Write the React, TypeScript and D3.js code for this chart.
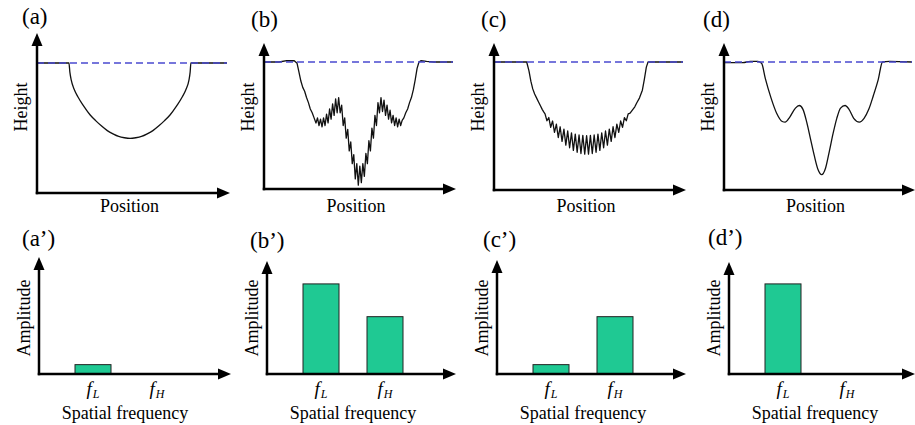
import React, { useRef, useEffect } from "react";
import * as d3 from "d3";

// panel captions
const panelLabels = ["(a)", "(b)", "(c)", "(d)"];
const spectrumLabels = ["(a’)", "(b’)", "(c’)", "(d’)"];

// spectrum categories and amplitudes (fL, fH)
const frequencies = ["L", "H"];
const amplitudeA = [0.08, 0];
const amplitudeB = [0.77, 0.49];
const amplitudeC = [0.08, 0.49];
const amplitudeD = [0.77, 0];

// surface profiles: [position 0-100, height relative to reference plane = 1]
const profileA = [
  [0, 1], [16.8, 1], [17.3, 0.93], [18, 0.87], [19.5, 0.8], [21.5, 0.74], [24.5, 0.67],
  [28, 0.6], [31, 0.555], [34, 0.515], [37, 0.48], [40, 0.455], [43, 0.435], [46, 0.425],
  [49, 0.42], [52, 0.425], [55, 0.435], [58, 0.455], [61, 0.48], [64, 0.515], [67, 0.555],
  [70, 0.6], [73.5, 0.67], [76.5, 0.74], [78.5, 0.8], [80, 0.87], [80.6, 0.93], [81, 1], [100, 1]
];

const profileB = [
  [0, 1], [8, 1], [12, 1.01], [16, 1.01], [17.5, 0.99],
  [18.5, 0.92], [19.5, 0.85], [20.5, 0.8], [21.5, 0.77], [22.5, 0.72], [23.5, 0.68], [24.5, 0.63],
  [25.5, 0.6], [26.5, 0.56],
  [27.5, 0.52], [28.3, 0.56], [29.1, 0.5], [29.9, 0.55], [30.7, 0.49], [31.5, 0.56], [32.3, 0.5],
  [33.1, 0.59], [33.9, 0.52], [34.7, 0.63], [35.5, 0.55], [36.3, 0.67], [37.1, 0.58], [37.9, 0.71],
  [38.7, 0.6], [39.5, 0.72], [40.3, 0.6],
  [41.1, 0.66], [41.9, 0.5], [42.7, 0.56], [43.5, 0.4], [44.3, 0.47], [45.1, 0.3], [45.9, 0.37],
  [46.7, 0.2], [47.5, 0.27], [48.3, 0.08], [49.1, 0.2], [49.9, 0.03], [50.7, 0.18], [51.5, 0.05],
  [52.3, 0.2], [53.1, 0.1], [53.9, 0.28], [54.7, 0.2], [55.5, 0.38], [56.3, 0.3], [57.1, 0.48],
  [57.9, 0.4], [58.7, 0.58], [59.5, 0.5], [60.3, 0.68], [61.1, 0.6], [61.9, 0.72], [62.7, 0.61],
  [63.5, 0.7], [64.3, 0.58], [65.1, 0.66], [65.9, 0.55], [66.7, 0.62], [67.5, 0.52], [68.3, 0.58],
  [69.1, 0.5], [69.9, 0.56], [70.7, 0.49], [71.5, 0.55], [72.3, 0.5], [73.1, 0.54],
  [74, 0.56], [75, 0.6], [76, 0.63], [77, 0.68], [78, 0.72], [79, 0.78], [80, 0.86], [81, 0.95],
  [82, 1.0], [83, 1.01], [86, 1.005], [90, 1], [100, 1]
];

const profileC = [
  [0, 1], [17.3, 1], [18.5, 0.93], [19.5, 0.85], [20.5, 0.79], [21.5, 0.75], [22.5, 0.72],
  [23.5, 0.69], [24.5, 0.66], [25.5, 0.63], [26.3, 0.61],
  [27, 0.595], [28, 0.541], [29, 0.566], [30, 0.49], [31, 0.539], [32, 0.45], [33, 0.515],
  [34, 0.41], [35, 0.494], [36, 0.38], [37, 0.476], [38, 0.35], [39, 0.461], [40, 0.33],
  [41, 0.447], [42, 0.31], [43, 0.437], [44, 0.295], [45, 0.43], [46, 0.285], [47, 0.427],
  [48, 0.28], [49, 0.425], [50, 0.28], [51, 0.427], [52, 0.285], [53, 0.43], [54, 0.295],
  [55, 0.437], [56, 0.31], [57, 0.447], [58, 0.33], [59, 0.461], [60, 0.35], [61, 0.476],
  [62, 0.38], [63, 0.494], [64, 0.41], [65, 0.515], [66, 0.45], [67, 0.539], [68, 0.49],
  [69, 0.566], [70, 0.541], [71, 0.595],
  [72, 0.6], [73, 0.62], [74.5, 0.65], [75.5, 0.68], [77, 0.72], [78.5, 0.78], [79.5, 0.86],
  [80.6, 0.96], [81.5, 1], [100, 1]
];

const profileD = [
  [0, 0.995], [10, 0.995], [14, 1.005], [18, 1.005], [20, 0.99], [22, 0.87], [25, 0.72],
  [28, 0.6], [31, 0.535], [32.5, 0.53], [35, 0.57], [38, 0.64], [40, 0.66], [42, 0.63],
  [44, 0.53], [46, 0.4], [48, 0.27], [50, 0.16], [52, 0.12], [54, 0.17], [56, 0.3],
  [58, 0.44], [60, 0.56], [62, 0.64], [64.4, 0.66], [66.5, 0.63], [69, 0.56], [72, 0.53],
  [74.5, 0.56], [77, 0.63], [79.5, 0.74], [82, 0.86], [84.3, 1.0], [88, 1.005], [100, 1]
];

const profiles = [profileA, profileB, profileC, profileD];
const amplitudes = [amplitudeA, amplitudeB, amplitudeC, amplitudeD];

const App = () => {
  const chart = useRef(null);

  useEffect(() => {
    const svg = d3.select(chart.current);
    svg.selectAll("*").remove();
    svg.append("rect").attr("width", 915).attr("height", 425).attr("fill", "#fff");

    const label = (g, txt, size) =>
      g.append("text")
        .attr("font-family", "Liberation Serif")
        .style("font-family", '"Liberation Serif"')
        .style("font-size", size + "px")
        .text(txt);

    const arrow = (g, x1, y1, x2, y2) => {
      const ang = Math.atan2(y2 - y1, x2 - x1);
      const len = 13, half = 5.5;
      const bx = x2 - len * Math.cos(ang), by = y2 - len * Math.sin(ang);
      g.append("line")
        .attr("x1", x1).attr("y1", y1).attr("x2", bx + Math.cos(ang)).attr("y2", by + Math.sin(ang))
        .attr("stroke", "#000").attr("stroke-width", 2.5);
      g.append("path")
        .attr("d", `M${x2},${y2}L${bx - half * Math.sin(ang)},${by + half * Math.cos(ang)}L${bx + half * Math.sin(ang)},${by - half * Math.cos(ang)}Z`)
        .attr("fill", "#000");
    };

    // top row: height profiles
    const topLayout = [
      { axisX: 37, axisY: 193, tipY: 33, endX: 230, refY: 63, lx: 22, ly: 24 },
      { axisX: 264, axisY: 189, tipY: 43, endX: 456, refY: 62, lx: 251, ly: 27 },
      { axisX: 494, axisY: 190, tipY: 43, endX: 686, refY: 62, lx: 481, ly: 27 },
      { axisX: 724, axisY: 190, tipY: 43, endX: 915, refY: 62, lx: 703, ly: 27 }
    ];

    topLayout.forEach((p, i) => {
      const g = svg.append("g");
      const x = d3.scaleLinear().domain([0, 100]).range([p.axisX, p.endX - 3]);
      const y = d3.scaleLinear().domain([0, 1]).range([p.axisY, p.refY]);
      const smooth = i === 0 || i === 3;
      const line = d3.line()
        .x(d => x(d[0]))
        .y(d => y(d[1]))
        .curve(smooth ? d3.curveMonotoneX : d3.curveLinear);

      g.append("path")
        .datum(profiles[i])
        .attr("d", line)
        .attr("fill", "none")
        .attr("stroke", "#111")
        .attr("stroke-width", 1.3)
        .attr("stroke-linejoin", "round");

      g.append("line")
        .attr("x1", x(0)).attr("x2", x(100))
        .attr("y1", y(1)).attr("y2", y(1))
        .attr("stroke", "#4a4ad0")
        .attr("stroke-width", 1.4)
        .attr("stroke-dasharray", "7,4");

      arrow(g, p.axisX, p.axisY + 1.25, p.axisX, p.tipY);
      arrow(g, p.axisX - 1.25, p.axisY, p.endX, p.axisY);

      label(g, panelLabels[i], 23).attr("x", p.lx).attr("y", p.ly);

      label(g, "Position", 18)
        .attr("x", (p.axisX + p.endX) / 2 - 4).attr("y", 212)
        .attr("text-anchor", "middle");

      label(g, "Height", 18)
        .attr("transform", `translate(${p.axisX - 10},107) rotate(-90)`)
        .attr("text-anchor", "middle");
    });

    // bottom row: amplitude spectra
    const bottomLayout = [
      { axisX: 39, axisY: 374, tipY: 257, endX: 231, lx: 22, ly: 246 },
      { axisX: 267, axisY: 374, tipY: 261, endX: 456, lx: 250, ly: 248 },
      { axisX: 497, axisY: 374, tipY: 260, endX: 686, lx: 483, ly: 247 },
      { axisX: 729, axisY: 374, tipY: 262, endX: 915, lx: 708, ly: 245 }
    ];

    bottomLayout.forEach((p, i) => {
      const g = svg.append("g");
      const x = d3.scaleBand()
        .domain(frequencies)
        .range([p.axisX + 36, p.axisX + 136])
        .paddingInner(0.4375)
        .paddingOuter(0);
      const y = d3.scaleLinear().domain([0, 1]).range([p.axisY, 257]);
      const vals = amplitudes[i].map((v, k) => ({ key: frequencies[k], value: v }));

      g.selectAll("rect")
        .data(vals.filter(d => d.value > 0))
        .join("rect")
          .attr("x", d => x(d.key))
          .attr("y", d => y(d.value))
          .attr("width", x.bandwidth())
          .attr("height", d => y(0) - y(d.value))
          .attr("fill", "#1fc993")
          .attr("stroke", "#222")
          .attr("stroke-width", 1);

      arrow(g, p.axisX, p.axisY + 1.25, p.axisX, p.tipY);
      arrow(g, p.axisX - 1.25, p.axisY, p.endX, p.axisY);

      frequencies.forEach(f => {
        const t = label(g, null, 19)
          .attr("x", x(f) + x.bandwidth() / 2)
          .attr("y", 395)
          .attr("text-anchor", "middle")
          .style("font-style", "italic");
        t.append("tspan").text("f");
        t.append("tspan").style("font-size", "12px").attr("dx", 1).attr("dy", 3).text(f);
      });

      label(g, "Spatial frequency", 18)
        .attr("x", x("L") + (x("H") - x("L")) / 2 + x.bandwidth() / 2)
        .attr("y", 419)
        .attr("text-anchor", "middle");

      label(g, "Amplitude", 18)
        .attr("transform", `translate(${p.axisX - 9},318) rotate(-90)`)
        .attr("text-anchor", "middle");

      label(g, spectrumLabels[i], 23).attr("x", p.lx).attr("y", p.ly);
    });
  }, []);

  return (
    <div style={{ position: "absolute", left: 0, top: 0 }}>
      <svg ref={chart} width={915} height={425} style={{ fontFamily: '"Liberation Serif"' }}></svg>
    </div>
  );
};

export default App;
